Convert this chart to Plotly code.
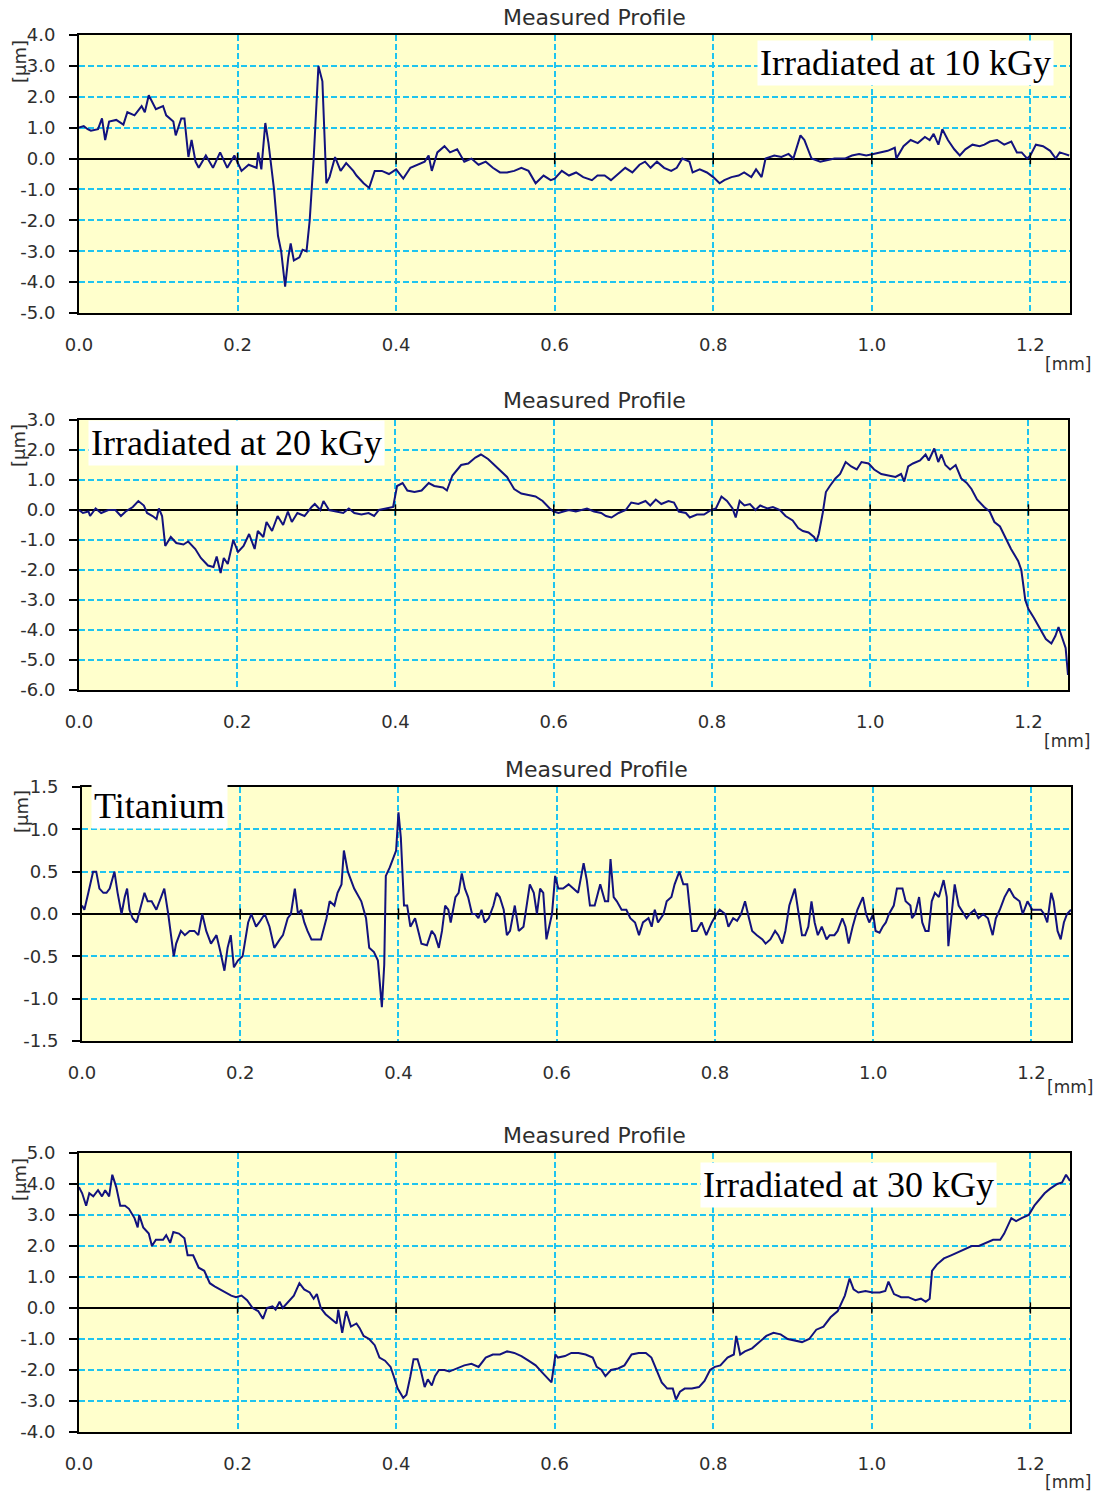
import plotly.graph_objects as go

# ---------------- data (x in mm, height in µm) ----------------
x_10kgy = [0.000,0.006,0.011,0.015,0.024,0.029,0.033,0.038,0.047,0.056,0.061,0.070,0.079,0.083,0.088,0.097,0.106,0.110,0.119,0.122,
           0.129,0.133,0.138,0.142,0.147,0.151,0.160,0.169,0.178,0.187,0.196,0.205,0.214,0.224,0.226,0.230,0.235,0.239,0.246,0.251,
           0.255,0.260,0.264,0.267,0.271,0.278,0.282,0.287,0.291,0.296,0.302,0.307,0.312,0.316,0.323,0.330,0.337,0.346,0.350,0.359,
           0.366,0.373,0.382,0.391,0.400,0.409,0.418,0.427,0.436,0.441,0.445,0.452,0.461,0.468,0.477,0.486,0.495,0.504,0.513,0.522,
           0.531,0.540,0.549,0.558,0.567,0.576,0.586,0.595,0.600,0.609,0.618,0.627,0.636,0.647,0.654,0.663,0.671,0.680,0.689,0.698,
           0.707,0.714,0.721,0.729,0.738,0.747,0.754,0.761,0.770,0.774,0.783,0.792,0.800,0.808,0.814,0.823,0.832,0.839,0.848,0.854,
           0.861,0.866,0.877,0.886,0.895,0.901,0.910,0.915,0.924,0.935,0.944,0.953,0.966,0.975,0.984,0.993,1.002,1.011,1.020,1.029,
           1.031,1.040,1.049,1.058,1.067,1.073,1.078,1.084,1.089,1.096,1.104,1.111,1.118,1.127,1.136,1.142,1.149,1.158,1.167,1.176,
           1.183,1.189,1.196,1.200,1.207,1.216,1.225,1.232,1.237,1.243,1.249]
y_10kgy = [1.0,1.05,0.95,0.9,0.95,1.3,0.6,1.2,1.25,1.1,1.5,1.4,1.7,1.5,2.05,1.6,1.7,1.4,1.2,0.75,
           1.3,1.3,0.05,0.6,-0.1,-0.3,0.1,-0.3,0.2,-0.3,0.1,-0.4,-0.2,-0.3,0.2,-0.35,1.15,0.5,-1.0,-2.5,
           -3.0,-4.15,-3.2,-2.75,-3.3,-3.2,-2.95,-3.0,-2.0,0.0,3.0,2.5,-0.8,-0.6,0.05,-0.4,-0.15,-0.4,-0.55,-0.8,
           -0.95,-0.4,-0.4,-0.5,-0.35,-0.65,-0.3,-0.2,-0.1,0.1,-0.4,0.2,0.4,0.2,0.3,-0.1,0.0,-0.2,-0.1,-0.3,
           -0.45,-0.45,-0.4,-0.3,-0.4,-0.8,-0.55,-0.7,-0.65,-0.4,-0.55,-0.45,-0.6,-0.7,-0.55,-0.55,-0.7,-0.5,-0.3,-0.45,
           -0.2,-0.1,-0.3,-0.1,-0.3,-0.4,-0.3,0.0,-0.1,-0.45,-0.35,-0.45,-0.6,-0.8,-0.7,-0.6,-0.55,-0.45,-0.6,-0.35,
           -0.6,0.0,0.1,0.05,0.15,0.0,0.75,0.6,0.0,-0.1,-0.05,0.0,0.0,0.1,0.15,0.1,0.15,0.2,0.25,0.35,
           0.0,0.4,0.6,0.5,0.7,0.6,0.8,0.45,0.95,0.6,0.3,0.1,0.3,0.45,0.4,0.45,0.55,0.6,0.45,0.55,
           0.2,0.2,0.0,0.1,0.45,0.4,0.25,0.0,0.2,0.15,0.1]

x_20kgy = [0.000,0.005,0.012,0.014,0.021,0.028,0.037,0.046,0.053,0.059,0.068,0.075,0.082,0.086,0.093,0.098,0.101,0.105,0.109,0.116,
           0.123,0.132,0.138,0.147,0.154,0.163,0.170,0.174,0.179,0.183,0.188,0.195,0.201,0.208,0.215,0.222,0.226,0.233,0.237,0.244,
           0.251,0.258,0.264,0.269,0.276,0.285,0.294,0.298,0.305,0.309,0.316,0.325,0.334,0.341,0.348,0.357,0.366,0.373,0.379,0.388,
           0.397,0.402,0.409,0.415,0.424,0.433,0.442,0.449,0.460,0.465,0.472,0.483,0.492,0.501,0.508,0.517,0.523,0.532,0.541,0.550,
           0.559,0.568,0.577,0.586,0.595,0.600,0.606,0.619,0.628,0.642,0.651,0.660,0.666,0.673,0.682,0.691,0.698,0.707,0.716,0.722,
           0.729,0.736,0.745,0.752,0.758,0.767,0.772,0.781,0.790,0.799,0.805,0.812,0.819,0.826,0.830,0.835,0.841,0.848,0.855,0.861,
           0.870,0.877,0.886,0.893,0.902,0.909,0.915,0.922,0.929,0.932,0.935,0.940,0.944,0.949,0.956,0.962,0.969,0.976,0.983,0.989,
           0.998,1.005,1.014,1.023,1.032,1.039,1.043,1.048,1.054,1.063,1.070,1.074,1.081,1.086,1.090,1.095,1.101,1.108,1.115,1.122,
           1.128,1.135,1.144,1.151,1.157,1.164,1.171,1.178,1.187,1.191,1.196,1.200,1.207,1.216,1.222,1.229,1.234,1.238,1.243,1.247,
           1.250]
y_20kgy = [0.0,-0.1,-0.05,-0.2,0.05,-0.1,0.0,0.0,-0.2,-0.05,0.1,0.3,0.15,-0.1,-0.2,-0.3,0.05,-0.2,-1.2,-0.9,
           -1.1,-1.15,-1.05,-1.3,-1.6,-1.85,-1.9,-1.55,-2.1,-1.6,-1.8,-1.0,-1.4,-1.2,-0.8,-1.3,-0.7,-0.9,-0.4,-0.7,
           -0.2,-0.5,-0.05,-0.4,-0.1,-0.2,0.1,0.2,0.0,0.3,0.0,-0.05,-0.1,0.05,-0.1,-0.15,-0.1,-0.2,0.0,0.05,
           0.1,0.8,0.9,0.65,0.6,0.65,0.9,0.8,0.75,0.65,1.15,1.5,1.55,1.75,1.85,1.7,1.55,1.3,1.1,0.7,
           0.55,0.5,0.45,0.3,0.05,-0.05,-0.1,0.0,-0.05,0.05,-0.05,-0.1,-0.2,-0.25,-0.1,0.0,0.25,0.2,0.3,0.15,
           0.35,0.2,0.3,0.25,-0.05,-0.1,-0.25,-0.15,-0.15,0.0,0.05,0.45,0.3,0.05,-0.25,0.3,0.15,0.2,0.0,0.15,
           0.05,0.1,0.0,-0.2,-0.35,-0.6,-0.7,-0.75,-0.9,-1.05,-0.8,-0.1,0.6,0.8,1.05,1.2,1.6,1.45,1.35,1.6,
           1.55,1.35,1.2,1.15,1.1,1.2,0.95,1.45,1.55,1.65,1.85,1.65,2.05,1.6,1.85,1.5,1.35,1.5,1.05,0.9,
           0.7,0.35,0.1,-0.05,-0.4,-0.55,-0.95,-1.3,-1.7,-2.0,-3.0,-3.3,-3.6,-4.0,-4.3,-4.45,-4.2,-3.9,-4.3,-4.6,
           -5.5]

x_titanium = [0.000,0.003,0.008,0.014,0.018,0.022,0.027,0.031,0.035,0.041,0.045,0.050,0.054,0.057,0.060,0.064,0.069,0.073,0.079,0.083,
              0.088,0.094,0.098,0.104,0.109,0.113,0.116,0.119,0.125,0.130,0.136,0.142,0.147,0.152,0.157,0.163,0.170,0.175,0.180,0.184,
              0.188,0.192,0.197,0.203,0.210,0.214,0.220,0.224,0.231,0.237,0.243,0.250,0.254,0.260,0.264,0.269,0.273,0.277,0.281,0.285,
              0.290,0.296,0.302,0.309,0.313,0.319,0.323,0.328,0.331,0.336,0.344,0.353,0.359,0.363,0.369,0.374,0.377,0.379,0.382,0.384,
              0.389,0.393,0.397,0.400,0.403,0.407,0.411,0.415,0.421,0.425,0.429,0.436,0.442,0.446,0.451,0.455,0.459,0.463,0.466,0.472,
              0.476,0.480,0.484,0.488,0.493,0.497,0.501,0.505,0.509,0.514,0.520,0.524,0.528,0.533,0.537,0.541,0.547,0.552,0.558,0.562,
              0.566,0.571,0.575,0.579,0.583,0.587,0.594,0.598,0.602,0.608,0.615,0.621,0.627,0.634,0.638,0.642,0.648,0.655,0.661,0.665,
              0.668,0.672,0.676,0.682,0.688,0.693,0.699,0.704,0.709,0.716,0.720,0.724,0.728,0.735,0.739,0.745,0.749,0.755,0.760,0.765,
              0.771,0.777,0.783,0.789,0.796,0.802,0.806,0.813,0.817,0.823,0.828,0.833,0.838,0.843,0.847,0.853,0.860,0.864,0.870,0.876,
              0.880,0.885,0.889,0.894,0.901,0.905,0.910,0.914,0.918,0.922,0.926,0.930,0.935,0.941,0.945,0.951,0.955,0.961,0.965,0.969,
              0.974,0.980,0.987,0.991,0.995,1.000,1.003,1.008,1.012,1.016,1.020,1.026,1.030,1.037,1.041,1.047,1.049,1.053,1.058,1.062,
              1.066,1.070,1.074,1.078,1.083,1.089,1.093,1.095,1.099,1.103,1.108,1.114,1.118,1.122,1.128,1.133,1.139,1.145,1.151,1.155,
              1.160,1.166,1.172,1.178,1.185,1.189,1.195,1.201,1.205,1.212,1.216,1.220,1.225,1.228,1.233,1.237,1.241,1.245,1.250]
y_titanium = [0.1,0.05,0.25,0.5,0.5,0.3,0.25,0.25,0.3,0.5,0.25,0.0,0.2,0.3,0.05,-0.05,-0.1,0.05,0.25,0.15,
              0.15,0.05,0.15,0.3,0.0,-0.3,-0.5,-0.35,-0.2,-0.25,-0.2,-0.2,-0.25,0.0,-0.2,-0.35,-0.25,-0.45,-0.67,-0.4,
              -0.25,-0.63,-0.55,-0.5,-0.1,0.0,-0.15,-0.1,0.0,-0.15,-0.4,-0.3,-0.25,-0.05,0.0,0.3,0.0,0.05,-0.1,-0.2,
              -0.3,-0.3,-0.3,-0.05,0.15,0.1,0.25,0.35,0.75,0.5,0.3,0.15,-0.05,-0.4,-0.45,-0.55,-0.85,-1.1,-0.6,0.45,
              0.55,0.65,0.75,1.2,0.9,0.1,0.1,-0.15,-0.05,-0.2,-0.35,-0.37,-0.2,-0.25,-0.4,-0.2,0.1,0.05,-0.1,0.2,
              0.25,0.48,0.3,0.2,0.0,0.0,-0.05,0.05,-0.1,-0.05,0.1,0.25,0.2,0.05,-0.25,-0.2,0.1,-0.2,-0.15,0.1,
              0.35,0.25,0.0,0.3,0.25,-0.3,0.0,0.45,0.3,0.3,0.35,0.3,0.25,0.6,0.4,0.1,0.1,0.35,0.15,0.15,
              0.65,0.2,0.15,0.05,0.05,-0.05,-0.1,-0.25,-0.1,-0.05,-0.15,0.05,-0.1,0.0,0.15,0.2,0.35,0.5,0.35,0.35,
              -0.2,-0.2,-0.1,-0.25,-0.1,0.0,0.05,0.0,-0.15,-0.05,-0.08,0.0,0.15,-0.05,-0.2,-0.25,-0.3,-0.35,-0.3,-0.2,
              -0.25,-0.35,-0.2,0.1,0.3,0.05,-0.25,-0.25,-0.15,0.15,-0.1,-0.25,-0.15,-0.3,-0.25,-0.25,-0.2,-0.05,-0.15,-0.35,
              -0.15,0.05,0.2,0.0,-0.1,0.0,-0.2,-0.22,-0.15,-0.1,0.0,0.1,0.3,0.3,0.15,0.1,-0.05,0.0,0.2,-0.1,
              -0.2,-0.2,0.15,0.25,0.2,0.4,0.2,-0.38,0.0,0.35,0.1,0.0,-0.05,0.0,0.05,-0.05,0.0,-0.05,-0.25,-0.05,
              0.05,0.2,0.3,0.2,0.15,0.0,0.15,0.05,0.05,0.05,0.0,-0.1,0.25,0.15,-0.2,-0.3,-0.1,0.0,0.05]

x_30kgy = [0.000,0.004,0.009,0.013,0.018,0.024,0.029,0.033,0.038,0.042,0.047,0.052,0.058,0.063,0.070,0.074,0.076,0.081,0.088,0.092,
           0.097,0.106,0.110,0.115,0.119,0.126,0.133,0.137,0.144,0.151,0.158,0.165,0.171,0.178,0.185,0.192,0.198,0.205,0.212,0.219,
           0.226,0.232,0.237,0.244,0.248,0.253,0.257,0.264,0.271,0.278,0.284,0.291,0.296,0.300,0.305,0.311,0.318,0.325,0.327,0.332,
           0.337,0.343,0.350,0.354,0.359,0.366,0.373,0.379,0.386,0.393,0.397,0.402,0.409,0.413,0.418,0.422,0.427,0.431,0.436,0.440,
           0.445,0.449,0.454,0.461,0.467,0.476,0.486,0.495,0.504,0.513,0.522,0.531,0.540,0.549,0.558,0.567,0.576,0.585,0.592,0.596,
           0.601,0.604,0.613,0.621,0.630,0.639,0.648,0.653,0.659,0.664,0.671,0.680,0.688,0.697,0.706,0.715,0.722,0.729,0.735,0.742,
           0.749,0.753,0.758,0.764,0.773,0.782,0.789,0.796,0.802,0.809,0.818,0.826,0.829,0.834,0.840,0.849,0.858,0.867,0.876,0.885,
           0.894,0.903,0.912,0.921,0.930,0.939,0.948,0.957,0.966,0.972,0.977,0.983,0.992,1.001,1.010,1.017,1.021,1.028,1.037,1.046,
           1.055,1.062,1.068,1.073,1.076,1.082,1.091,1.100,1.108,1.117,1.126,1.135,1.144,1.153,1.162,1.167,1.176,1.182,1.189,1.198,
           1.205,1.211,1.218,1.225,1.234,1.240,1.245,1.250]
y_30kgy = [3.9,3.7,3.3,3.7,3.6,3.8,3.6,3.8,3.6,4.3,3.9,3.3,3.3,3.2,2.9,2.6,3.0,2.6,2.4,2.0,
           2.2,2.2,2.35,2.1,2.45,2.4,2.25,1.7,1.7,1.3,1.2,0.8,0.7,0.6,0.5,0.4,0.35,0.4,0.25,0.0,
           -0.1,-0.35,0.0,0.05,-0.05,0.2,0.0,0.2,0.4,0.8,0.6,0.5,0.3,0.45,0.0,-0.2,-0.35,-0.5,-0.05,-0.8,
           -0.1,-0.6,-0.5,-0.65,-0.9,-1.0,-1.2,-1.6,-1.7,-1.9,-2.2,-2.6,-2.9,-2.8,-2.2,-1.65,-1.65,-2.0,-2.55,-2.3,
           -2.5,-2.2,-2.0,-2.0,-2.05,-1.95,-1.85,-1.8,-1.9,-1.6,-1.5,-1.5,-1.4,-1.45,-1.55,-1.7,-1.85,-2.1,-2.3,-2.4,
           -1.5,-1.6,-1.55,-1.45,-1.45,-1.5,-1.6,-1.9,-2.0,-2.2,-2.0,-1.95,-1.85,-1.5,-1.45,-1.45,-1.6,-2.05,-2.4,-2.6,
           -2.6,-2.95,-2.7,-2.6,-2.6,-2.55,-2.35,-2.0,-1.9,-1.85,-1.6,-1.5,-0.9,-1.5,-1.4,-1.3,-1.1,-0.9,-0.8,-0.85,
           -1.0,-1.05,-1.1,-1.0,-0.7,-0.6,-0.3,-0.1,0.4,0.95,0.6,0.5,0.55,0.5,0.5,0.55,0.85,0.45,0.35,0.35,
           0.25,0.3,0.2,0.3,1.2,1.4,1.6,1.7,1.8,1.9,2.0,2.0,2.1,2.2,2.2,2.4,2.9,2.8,2.9,3.0,
           3.3,3.5,3.7,3.85,4.0,4.05,4.3,4.1]

x_tick_values = [0.0, 0.2, 0.4, 0.6, 0.8, 1.0, 1.2]
panel_labels = ["Irradiated at 10 kGy", "Irradiated at 20 kGy", "Titanium", "Irradiated at 30 kGy"]
y_ranges = [(-5.0, 4.0), (-6.0, 3.0), (-1.5, 1.5), (-4.0, 5.0)]
y_steps = [1.0, 1.0, 0.5, 1.0]

# ---------------- layout geometry (pixels) ----------------
W, H = 1097, 1495
plot_boxes = [(79, 1070, 35, 313), (79, 1068, 420, 690), (82, 1071, 787, 1041), (79, 1070, 1153, 1432)]
label_boxes = [(905, 63), (236, 443), (159, 806), (848, 1185)]
title_pos = [(594, 17), (594, 401), (596, 769), (594, 1135)]
mm_pos = [(1068, 364), (1067, 741), (1070, 1087), (1068, 1482)]
um_pos = [(19, 62), (19, 446), (21, 812), (19, 1180)]

def px(xp):
    return xp / W

def py(yp):
    return 1 - yp / H

def fmt(v):
    return f"{v:.1f}"   # plain hyphen minus, as in the reference

series = [(x_10kgy, y_10kgy), (x_20kgy, y_20kgy), (x_titanium, y_titanium), (x_30kgy, y_30kgy)]

LINE = "#12127e"
GRID = "#1ec4f0"
TXT = "#2e2e2e"
FONT = "DejaVu Sans"

fig = go.Figure()
annotations = []
layout_axes = {}

for i, ((xs, ys), box) in enumerate(zip(series, plot_boxes)):
    n = i + 1
    xa = "x" if n == 1 else f"x{n}"
    ya = "y" if n == 1 else f"y{n}"
    fig.add_trace(go.Scatter(x=xs, y=ys, mode="lines", xaxis=xa, yaxis=ya,
                             line=dict(color=LINE, width=2), showlegend=False, hoverinfo="skip"))
    # small ticks on the zero line (Excel style)
    fig.add_trace(go.Scatter(x=x_tick_values[1:], y=[0] * (len(x_tick_values) - 1), mode="markers",
                             xaxis=xa, yaxis=ya, showlegend=False, hoverinfo="skip",
                             marker=dict(symbol="line-ns", size=8, line=dict(color="black", width=1.5))))
    l, r, t, b = box
    lo, hi = y_ranges[i]
    step = y_steps[i]
    nt = int(round((hi - lo) / step))
    yticks = [lo + k * step for k in range(nt + 1)]
    layout_axes["xaxis" if n == 1 else f"xaxis{n}"] = dict(
        domain=[px(l), px(r)], range=[0, 1.25], anchor=ya, automargin=False,
        tickvals=x_tick_values, ticktext=[fmt(v) for v in x_tick_values], ticks="", ticklabelstandoff=14,
        showgrid=True, gridcolor=GRID, griddash="6px,3px", gridwidth=1.5,
        zeroline=False, showline=True, linecolor="black", linewidth=2, mirror=True,
        tickfont=dict(family=FONT, size=18, color=TXT), fixedrange=True)
    layout_axes["yaxis" if n == 1 else f"yaxis{n}"] = dict(
        domain=[py(b), py(t)], range=[lo, hi], anchor=xa, automargin=False,
        tickvals=yticks, ticktext=[fmt(v) for v in yticks],
        ticks="outside", ticklen=8, tickwidth=2, tickcolor="black",
        ticklabelstandoff=10,
        showgrid=True, gridcolor=GRID, griddash="6px,3px", gridwidth=1.5,
        zeroline=True, zerolinecolor="black", zerolinewidth=1.6,
        showline=True, linecolor="black", linewidth=2, mirror=True,
        tickfont=dict(family=FONT, size=18, color=TXT), fixedrange=True)

    cx, cy = label_boxes[i]
    annotations.append(dict(text=panel_labels[i], x=px(cx), y=py(cy), xref="paper", yref="paper",
                            showarrow=False, xanchor="center", yanchor="middle",
                            font=dict(family="Liberation Serif", size=36, color="black"),
                            bgcolor="white", borderpad=2))
    tx, ty = title_pos[i]
    annotations.append(dict(text="Measured Profile", x=px(tx), y=py(ty), xref="paper", yref="paper",
                            showarrow=False, xanchor="center", yanchor="middle",
                            font=dict(family=FONT, size=22, color=TXT)))
    mx, my = mm_pos[i]
    annotations.append(dict(text="[mm]", x=px(mx), y=py(my), xref="paper", yref="paper",
                            showarrow=False, xanchor="center", yanchor="middle",
                            font=dict(family=FONT, size=17, color=TXT)))
    ux, uy = um_pos[i]
    annotations.append(dict(text="[µm]", x=px(ux), y=py(uy), xref="paper", yref="paper",
                            showarrow=False, xanchor="center", yanchor="middle", textangle=-90,
                            font=dict(family=FONT, size=18, color=TXT)))

fig.update_layout(width=W, height=H, margin=dict(l=0, r=0, t=0, b=0, autoexpand=False),
                  paper_bgcolor="white", plot_bgcolor="#ffffcc",
                  annotations=annotations, **layout_axes)

fig.write_html("out.html", config={"displayModeBar": False},
               post_script="document.body.style.margin='0';document.body.style.padding='0';"
                           "document.body.style.overflow='hidden';")
